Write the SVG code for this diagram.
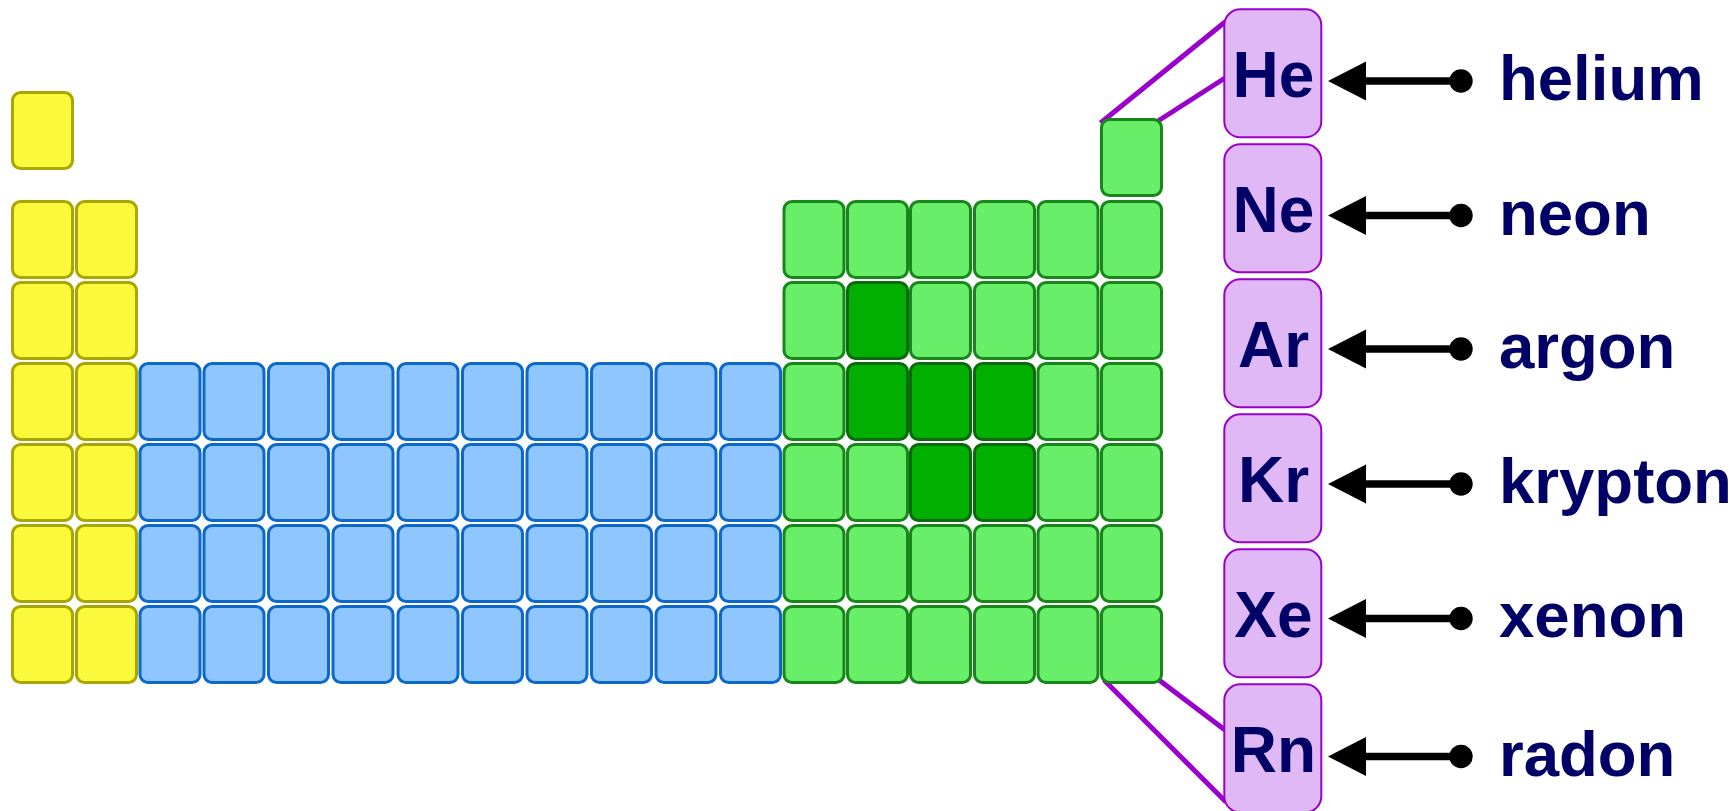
<svg xmlns="http://www.w3.org/2000/svg" width="1733" height="811" viewBox="0 0 1733 811">
<style>
.y{fill:#fbf93b;stroke:#a9a600;stroke-width:3}
.b{fill:#8ec6fd;stroke:#0c68c9;stroke-width:3}
.g{fill:#69ee69;stroke:#17871a;stroke-width:3}
.d{fill:#00af00;stroke:#0b6a0f;stroke-width:3}
.box{fill:#e0b8f6;stroke:#9a00cc;stroke-width:2}
.sym{font-family:"Liberation Sans",Arial,sans-serif;font-weight:bold;font-size:64px;fill:#000066;text-anchor:middle}
.lbl{font-family:"Liberation Sans",Arial,sans-serif;font-weight:bold;font-size:63.5px;fill:#000066}
.lnk{stroke:#9a00cc;stroke-width:5;fill:none}
.arr{stroke:#000;stroke-width:7.5;fill:none;marker-end:url(#head);marker-start:url(#dot)}
</style>
<defs>
<marker id="head" markerUnits="userSpaceOnUse" markerWidth="40" markerHeight="40" refX="0" refY="19.5" orient="auto" viewBox="0 0 40 40">
<path d="M0,0 L38,19.5 L0,39 Z" fill="#000"/>
</marker>
<marker id="dot" markerUnits="userSpaceOnUse" markerWidth="26" markerHeight="26" refX="13" refY="13" orient="auto" viewBox="0 0 26 26">
<circle cx="13" cy="13" r="11.7" fill="#000"/>
</marker>
<rect id="c" width="60" height="76" rx="8"/>
</defs>
<g id="connectors">
<line class="lnk" x1="1100.5" y1="123" x2="1225" y2="22"/>
<line class="lnk" x1="1158" y1="121" x2="1225" y2="78"/>
<line class="lnk" x1="1104" y1="680" x2="1226" y2="802"/>
<line class="lnk" x1="1159" y1="680" x2="1225" y2="730"/>
<line class="arr" x1="1461" y1="81" x2="1366" y2="81"/>
<line class="arr" x1="1461" y1="215.5" x2="1366" y2="215.5"/>
<line class="arr" x1="1461" y1="349" x2="1366" y2="349"/>
<line class="arr" x1="1461" y1="484" x2="1366" y2="484"/>
<line class="arr" x1="1461" y1="618.5" x2="1366" y2="618.5"/>
<line class="arr" x1="1461" y1="756.5" x2="1366" y2="756.5"/>
</g>
<g id="s-block">
<use href="#c" class="y" x="12.5" y="92.5"/>
<use href="#c" class="y" x="12.5" y="201.5"/><use href="#c" class="y" x="76.5" y="201.5"/>
<use href="#c" class="y" x="12.5" y="282.5"/><use href="#c" class="y" x="76.5" y="282.5"/>
<use href="#c" class="y" x="12.5" y="363.5"/><use href="#c" class="y" x="76.5" y="363.5"/>
<use href="#c" class="y" x="12.5" y="444.5"/><use href="#c" class="y" x="76.5" y="444.5"/>
<use href="#c" class="y" x="12.5" y="525.5"/><use href="#c" class="y" x="76.5" y="525.5"/>
<use href="#c" class="y" x="12.5" y="606.5"/><use href="#c" class="y" x="76.5" y="606.5"/>
</g>
<g id="d-block">
<use href="#c" class="b" x="140" y="363.5"/><use href="#c" class="b" x="204" y="363.5"/><use href="#c" class="b" x="268.5" y="363.5"/><use href="#c" class="b" x="333" y="363.5"/><use href="#c" class="b" x="398" y="363.5"/><use href="#c" class="b" x="462.5" y="363.5"/><use href="#c" class="b" x="527" y="363.5"/><use href="#c" class="b" x="591.5" y="363.5"/><use href="#c" class="b" x="656" y="363.5"/><use href="#c" class="b" x="720.5" y="363.5"/>
<use href="#c" class="b" x="140" y="444.5"/><use href="#c" class="b" x="204" y="444.5"/><use href="#c" class="b" x="268.5" y="444.5"/><use href="#c" class="b" x="333" y="444.5"/><use href="#c" class="b" x="398" y="444.5"/><use href="#c" class="b" x="462.5" y="444.5"/><use href="#c" class="b" x="527" y="444.5"/><use href="#c" class="b" x="591.5" y="444.5"/><use href="#c" class="b" x="656" y="444.5"/><use href="#c" class="b" x="720.5" y="444.5"/>
<use href="#c" class="b" x="140" y="525.5"/><use href="#c" class="b" x="204" y="525.5"/><use href="#c" class="b" x="268.5" y="525.5"/><use href="#c" class="b" x="333" y="525.5"/><use href="#c" class="b" x="398" y="525.5"/><use href="#c" class="b" x="462.5" y="525.5"/><use href="#c" class="b" x="527" y="525.5"/><use href="#c" class="b" x="591.5" y="525.5"/><use href="#c" class="b" x="656" y="525.5"/><use href="#c" class="b" x="720.5" y="525.5"/>
<use href="#c" class="b" x="140" y="606.5"/><use href="#c" class="b" x="204" y="606.5"/><use href="#c" class="b" x="268.5" y="606.5"/><use href="#c" class="b" x="333" y="606.5"/><use href="#c" class="b" x="398" y="606.5"/><use href="#c" class="b" x="462.5" y="606.5"/><use href="#c" class="b" x="527" y="606.5"/><use href="#c" class="b" x="591.5" y="606.5"/><use href="#c" class="b" x="656" y="606.5"/><use href="#c" class="b" x="720.5" y="606.5"/>
</g>
<g id="p-block">
<use href="#c" class="g" x="1101.5" y="119.5"/>
<use href="#c" class="g" x="784" y="201.5"/><use href="#c" class="g" x="847.5" y="201.5"/><use href="#c" class="g" x="910.5" y="201.5"/><use href="#c" class="g" x="974.5" y="201.5"/><use href="#c" class="g" x="1038" y="201.5"/><use href="#c" class="g" x="1101.5" y="201.5"/>
<use href="#c" class="g" x="784" y="282.5"/><use href="#c" class="d" x="847.5" y="282.5"/><use href="#c" class="g" x="910.5" y="282.5"/><use href="#c" class="g" x="974.5" y="282.5"/><use href="#c" class="g" x="1038" y="282.5"/><use href="#c" class="g" x="1101.5" y="282.5"/>
<use href="#c" class="g" x="784" y="363.5"/><use href="#c" class="d" x="847.5" y="363.5"/><use href="#c" class="d" x="910.5" y="363.5"/><use href="#c" class="d" x="974.5" y="363.5"/><use href="#c" class="g" x="1038" y="363.5"/><use href="#c" class="g" x="1101.5" y="363.5"/>
<use href="#c" class="g" x="784" y="444.5"/><use href="#c" class="g" x="847.5" y="444.5"/><use href="#c" class="d" x="910.5" y="444.5"/><use href="#c" class="d" x="974.5" y="444.5"/><use href="#c" class="g" x="1038" y="444.5"/><use href="#c" class="g" x="1101.5" y="444.5"/>
<use href="#c" class="g" x="784" y="525.5"/><use href="#c" class="g" x="847.5" y="525.5"/><use href="#c" class="g" x="910.5" y="525.5"/><use href="#c" class="g" x="974.5" y="525.5"/><use href="#c" class="g" x="1038" y="525.5"/><use href="#c" class="g" x="1101.5" y="525.5"/>
<use href="#c" class="g" x="784" y="606.5"/><use href="#c" class="g" x="847.5" y="606.5"/><use href="#c" class="g" x="910.5" y="606.5"/><use href="#c" class="g" x="974.5" y="606.5"/><use href="#c" class="g" x="1038" y="606.5"/><use href="#c" class="g" x="1101.5" y="606.5"/>
</g>
<g id="he"><rect class="box" x="1224.3" y="9.3" width="97" height="128" rx="16"/><text class="sym" x="1273.5" y="96.8">He</text><text class="lbl" x="1499" y="100">helium</text></g>
<g id="ne"><rect class="box" x="1224.3" y="144.3" width="97" height="128" rx="16"/><text class="sym" x="1273.5" y="231.8">Ne</text><text class="lbl" x="1499" y="234.5">neon</text></g>
<g id="ar"><rect class="box" x="1224.3" y="279.3" width="97" height="128" rx="16"/><text class="sym" x="1273.5" y="366.8">Ar</text><text class="lbl" x="1499" y="367.5">argon</text></g>
<g id="kr"><rect class="box" x="1224.3" y="414.3" width="97" height="128" rx="16"/><text class="sym" x="1273.5" y="501.8">Kr</text><text class="lbl" x="1499" y="503">krypton</text></g>
<g id="xe"><rect class="box" x="1224.3" y="549.3" width="97" height="128" rx="16"/><text class="sym" x="1273.5" y="636.8">Xe</text><text class="lbl" x="1499" y="637">xenon</text></g>
<g id="rn"><rect class="box" x="1224.3" y="684.3" width="97" height="128" rx="16"/><text class="sym" x="1273.5" y="771.8">Rn</text><text class="lbl" x="1499" y="775.5">radon</text></g>
</svg>
